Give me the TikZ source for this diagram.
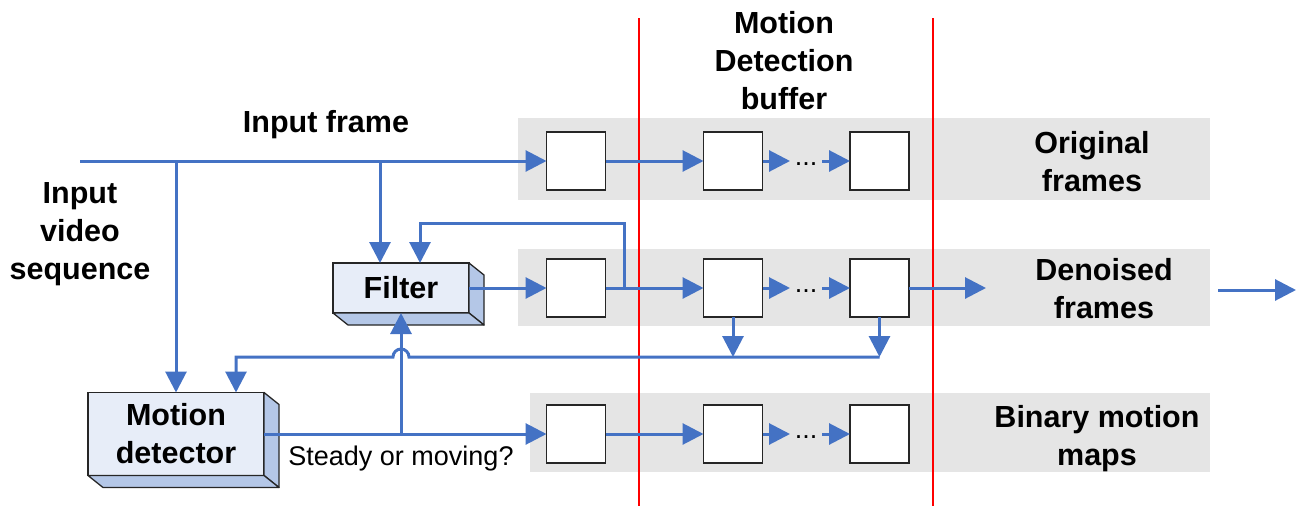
\documentclass[tikz,border=0pt]{standalone}
\usepackage{fontspec}
\setmainfont{Liberation Sans}
\usetikzlibrary{arrows.meta}
\definecolor{lineblue}{HTML}{4472C4}
\definecolor{bandgray}{HTML}{E5E5E5}
\definecolor{frontblue}{HTML}{E7EDF8}
\definecolor{sideblue}{HTML}{B4C7E7}
\tikzset{
  conn/.style={draw=lineblue, line width=3pt, -{Triangle[length=21pt,width=21pt]}},
  band/.style={fill=bandgray, draw=none},
  redline/.style={draw=red, line width=2.6pt},
  sbox/.style={draw=black!85, fill=white, line width=1.3pt, minimum width=59pt, minimum height=58pt, inner sep=0pt, outer sep=0pt},
  dots/.style={minimum width=32pt, inner sep=0pt, outer sep=0pt, font=\fontsize{27}{30}\selectfont},
  front/.style={draw=black!85, fill=frontblue, line width=1.3pt, inner sep=0pt, outer sep=0pt, align=center, font=\fontsize{30.5}{38}\selectfont\bfseries},
  side/.style={draw=black!85, fill=sideblue, line width=1.3pt, line join=round},
  lab/.style={font=\fontsize{30.5}{38}\selectfont\bfseries, align=center, inner sep=0pt},
  small/.style={font=\fontsize{27}{32}\selectfont, inner sep=0pt}
}
\begin{document}
\begin{tikzpicture}[x=1pt,y=-1pt]
\useasboundingbox (0,0) rectangle (1296,506);
% bands
\fill[band] (518,118) rectangle (1210,200);
\fill[band] (518,249) rectangle (1210,326);
\fill[band] (530,393) rectangle (1210,472);
% red lines
\draw[redline] (639,18) -- (639,506);
\draw[redline] (933,18) -- (933,506);
% buffer boxes
\node[sbox] (o1) at (576,161) {};
\node[sbox] (o2) at (733,161) {};
\node[sbox] (o3) at (879.5,161) {};
\node[sbox] (d1) at (576,288) {};
\node[sbox] (d2) at (733,288) {};
\node[sbox] (d3) at (879.5,288) {};
\node[sbox] (b1) at (576,434) {};
\node[sbox] (b2) at (733,434) {};
\node[sbox] (b3) at (879.5,434) {};
% dots
\node[dots] (od) at (806,164) {...};
\node[dots] (dd) at (806,291) {...};
\node[dots] (bd) at (806,437) {...};
% filter box
\node[front, minimum width=136pt, minimum height=50pt] (filter) at (401,288) {Filter};
\filldraw[side] (filter.north east) -- ([shift={(15,12)}]filter.north east) -- ([shift={(15,12)}]filter.south east) -- (filter.south east) -- cycle;
\filldraw[side] (filter.south west) -- ([shift={(15,12)}]filter.south west) -- ([shift={(15,12)}]filter.south east) -- (filter.south east) -- cycle;
% motion detector box
\node[front, minimum width=176pt, minimum height=83pt] (md) at (176,434) {Motion\\detector};
\filldraw[side] (md.north east) -- ([shift={(15,12)}]md.north east) -- ([shift={(15,12)}]md.south east) -- (md.south east) -- cycle;
\filldraw[side] (md.south west) -- ([shift={(15,12)}]md.south west) -- ([shift={(15,12)}]md.south east) -- (md.south east) -- cycle;
% coordinates
\coordinate (in) at (80,161);
\coordinate (j1) at (176,161);
\coordinate (j2) at (380,161);
\coordinate (fb) at (624,288);
\coordinate (fbt) at (420,223);
\coordinate (jmp) at (401,357);
\coordinate (c236) at (236,357);
\coordinate (j3) at (401,434);
\coordinate (dout) at (986,288);
\coordinate (r1) at (1218,290);
\coordinate (r2) at (1296,290);
% row 1
\draw[conn] (in) -- (o1.west);
\draw[conn] (o1.east) -- (o2.west);
\draw[conn] (o2.east) -- (o2.east -| od.west);
\draw[conn] (o3.west -| od.east) -- (o3.west);
% branches of input
\draw[conn] (j1) -- (j1 |- md.north);
\draw[conn] (j2) -- (j2 |- filter.north);
% feedback
\draw[conn] (fb) |- (fbt) -- (fbt |- filter.north);
% row 2
\draw[conn] (filter.east) -- (d1.west);
\draw[conn] (d1.east) -- (d2.west);
\draw[conn] (d2.east) -- (d2.east -| dd.west);
\draw[conn] (d3.west -| dd.east) -- (d3.west);
\draw[conn] (d3.east) -- (dout);
\draw[conn] (r1) -- (r2);
% down arrows
\draw[conn] (d2.south) -- (d2.south |- jmp);
\draw[conn] (d3.south) -- (d3.south |- jmp);
% return line with jump
\draw[conn] (d3.south |- jmp) -- ([xshift=8pt]jmp) arc[start angle=0, end angle=180, radius=8pt] -- (c236) -- (c236 |- md.north);
% motion detector output
\draw[conn] (md.east) -- (b1.west);
\draw[conn] (j3) -- (j3 |- filter.south);
% row 3
\draw[conn] (b1.east) -- (b2.west);
\draw[conn] (b2.east) -- (b2.east -| bd.west);
\draw[conn] (b3.west -| bd.east) -- (b3.west);
% labels
\node[lab] (tbuf) at (784,61) {Motion\\Detection\\buffer};
\node[lab] (tif) at (326,125) {Input frame};
\node[lab] (tivs) at (80,234) {Input\\video\\sequence};
\node[lab] (torig) at (1092,162) {Original\\frames};
\node[lab] (tden) at (1104,289) {Denoised\\frames};
\node[lab] (tbin) at (1097,439) {Binary motion\\maps};
\node[small] (tsm) at (401,459) {Steady or moving?};
\end{tikzpicture}
\end{document}
